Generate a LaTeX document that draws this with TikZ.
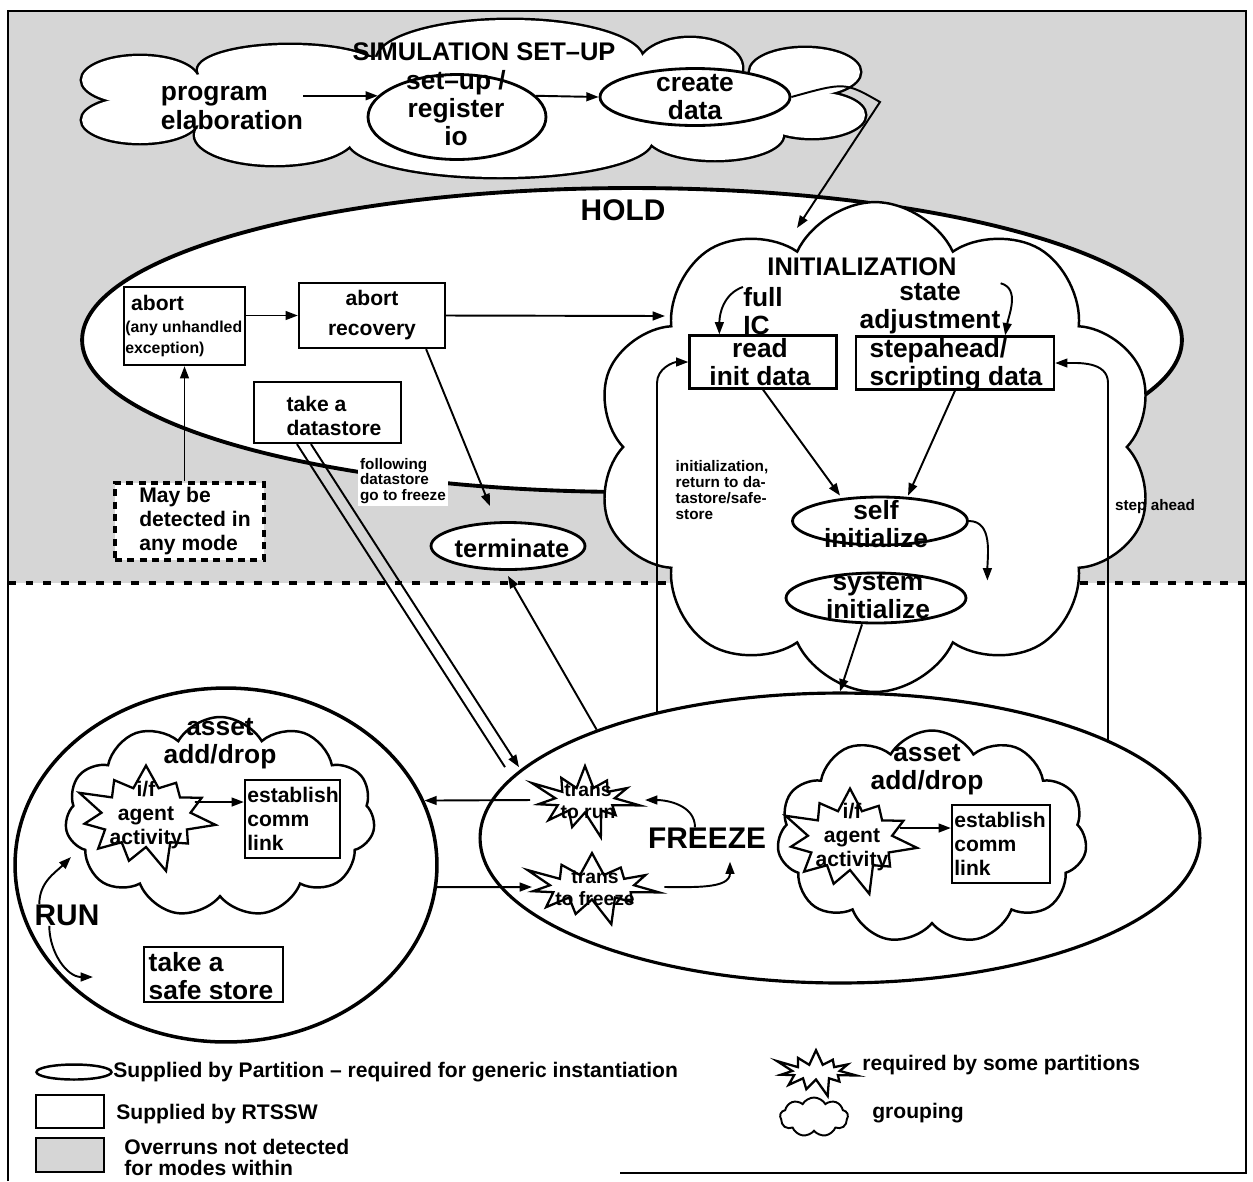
\documentclass[tikz,border=0pt]{standalone}
\usepackage{fontspec}
\setmainfont{Liberation Sans}
\usetikzlibrary{shapes.geometric,shapes.symbols,arrows.meta}
\newcommand\szhuge{\fontsize{17}{19}\selectfont}
\newcommand\sztitle{\fontsize{14.5}{16}\selectfont}
\newcommand\szbig{\fontsize{15}{16}\selectfont}
\newcommand\szmed{\fontsize{12}{13.5}\selectfont}
\newcommand\szsml{\fontsize{11}{12.5}\selectfont}
\newcommand\szleg{\fontsize{12}{12}\selectfont}
\newcommand\sztiny{\fontsize{8.7}{9}\selectfont}
\begin{document}
\begin{tikzpicture}[x=0.02cm,y=-0.02cm,
  lbl/.style={inner sep=0pt,align=center},
  fhuge/.style={font=\bfseries\szhuge},
  ftitle/.style={font=\bfseries\sztitle},
  fbig/.style={font=\bfseries\szbig},
  fmed/.style={font=\bfseries\szmed},
  fsml/.style={font=\bfseries\szsml},
  fleg/.style={font=\bfseries\szleg},
  ftiny/.style={font=\bfseries\sztiny},
  oval/.style={ellipse,draw,line width=1.6pt,fill=white,inner sep=0pt},
  rbox/.style={rectangle,draw,line width=1.3pt,fill=white,inner sep=0pt},
  puff/.style={cloud,draw,line width=1.4pt,fill=white,cloud puffs=11,cloud puff arc=120,inner sep=0pt},
  burst/.style={starburst,draw,line width=1.3pt,fill=white,starburst points=11,starburst point height=0.6cm,inner sep=0pt},
  arr/.style={-{Triangle[length=7pt,width=5pt]},line width=1.1pt},
]
\useasboundingbox (0,0) rectangle (1253,1181);
% shaded zone and frame
\fill[black!16] (8,11) rectangle (1246,583);
\draw[line width=2.2pt,dash pattern=on 4.5pt off 5.5pt] (8,583) -- (1246,583);
\draw[line width=1.3pt] (8,1181) -- (8,11) -- (1246,11) -- (1246,1173) -- (620,1173);

% simulation set-up cloud, drawn as a union of puffs
\foreach \cx/\cy/\rx/\ry in {140/80/58/24, 140/120/58/23, 290/70/92/25, 510/60/133/40,
    690/68/52/30, 805/72/55/24, 812/115/53/23, 715/135/68/25, 500/140/152/37, 275/135/80/30}
  \draw[line width=2.8pt] (\cx,\cy) ellipse [x radius=\rx, y radius=\ry];
\foreach \cx/\cy/\rx/\ry in {140/80/58/24, 140/120/58/23, 290/70/92/25, 510/60/133/40,
    690/68/52/30, 805/72/55/24, 812/115/53/23, 715/135/68/25, 500/140/152/37, 275/135/80/30, 470/100/330/45}
  \fill[white] (\cx,\cy) ellipse [x radius=\rx, y radius=\ry];
\node[oval,minimum width=3.56cm,minimum height=1.7cm] (setup) at (457,117) {};
\node[oval,minimum width=3.8cm,minimum height=1.14cm] (create) at (695,97) {};
\node[lbl,ftitle] (setuptitle) at (484,52) {SIMULATION SET–UP};
\node[lbl,fbig,align=left] (prog) at (232,108) {program\\elaboration};
\node[lbl,fbig] (setuptxt) at (456,108) {set–up /\\register\\io};
\node[lbl,fbig] (createtxt) at (695,97) {create\\data};

% hold
\node[oval,line width=2.2pt,minimum width=22cm,minimum height=6.08cm] (hold) at (632,340) {};
\node[lbl,fhuge] (holdtxt) at (623,210) {HOLD};

% initialization
\node[puff,cloud puffs=10,cloud puff arc=130,aspect=1.15,minimum width=11.2cm,minimum height=9.8cm] (initcloud) at (875,447) {};
\node[lbl,ftitle] (inittitle) at (862,267) {INITIALIZATION};
\node[lbl,fbig,align=left] (fullic) at (763,311) {full\\IC};
\node[lbl,fbig] (stateadj) at (930,309) {state\\adjustment};
\node[rbox,minimum width=2.94cm,minimum height=1.06cm] (readbox) at (763,362) {};
\node[lbl,fbig] (readtxt) at (760,362) {read\\init data};
\node[rbox,minimum width=3.96cm,minimum height=1.06cm] (stepbox) at (955,363) {};
\node[lbl,fbig,align=left] (steptxt) at (956,365) {stepahead/\\scripting data};
\node[oval,minimum width=3.5cm,minimum height=0.96cm] (selfinit) at (880,521) {};
\node[lbl,fbig] (selftxt) at (876,524) {self\\initialize};
\node[oval,minimum width=3.6cm,minimum height=1cm] (sysinit) at (876,598) {};
\node[lbl,fbig] (systxt) at (878,596) {system\\initialize};
\node[lbl,ftiny,align=left] (initnote) at (722,490) {initialization,\\return to da-\\tastore/safe-\\store};
\node[lbl,ftiny] (stepnote) at (1155,507) {step ahead};

% abort side
\node[rbox,minimum width=2.42cm,minimum height=1.56cm] (abortbox) at (184.5,326) {};
\node[lbl,align=left,anchor=west,font=\bfseries] (aborttxt) at (125,326) {\szmed\ abort\\[1pt]\fontsize{9}{12}\selectfont (any unhandled\\\fontsize{9}{12}\selectfont exception)};
\node[rbox,minimum width=2.92cm,minimum height=1.3cm] (recbox) at (372,315.5) {};
\node[lbl,fmed] (rectxt) at (372,315) {abort\\[4pt]recovery};
\node[rbox,minimum width=2.94cm,minimum height=1.22cm] (storebox) at (327.5,412.5) {};
\node[lbl,fmed,align=left] (storetxt) at (334,416) {take a\\datastore};
\node[rectangle,draw,line width=2pt,dash pattern=on 4pt off 3pt,fill=white,minimum width=2.98cm,minimum height=1.54cm] (maybox) at (189.5,521.5) {};
\node[lbl,fmed,align=left] (maytxt) at (195,521) {May be\\detected in\\any mode};
\node[lbl,ftiny,align=left,fill=white,inner sep=1pt] (follownote) at (403,481) {following\\datastore\\go to freeze};
\node[oval,minimum width=3.08cm,minimum height=0.94cm] (term) at (508,546) {};
\node[lbl,ftitle] (termtxt) at (512,548) {terminate};

% run
\node[oval,line width=2pt,minimum width=8.44cm,minimum height=7.08cm] (runell) at (226,865) {};
\node[puff,cloud puffs=11,aspect=1.55,minimum width=6.2cm,minimum height=4cm] (runcloud) at (220,817) {};
\node[burst,minimum width=3cm,minimum height=2.4cm] (runstar) at (146,817) {};
\node[rbox,minimum width=1.9cm,minimum height=1.56cm] (runlink) at (292.5,819) {};
\node[rbox,minimum width=2.78cm,minimum height=1.1cm] (safebox) at (213.5,974.5) {};
\node[lbl,fbig] (runasset) at (220,744) {asset\\add/drop};
\node[lbl,fmed] (runagent) at (146,815) {i/f\\agent\\activity};
\node[lbl,fmed,align=left] (runlinktxt) at (293,819) {establish\\comm\\link};
\node[lbl,fhuge] (runlbl) at (67,915) {RUN};
\node[lbl,fbig,align=left] (safetxt) at (211,976) {take a\\safe store};

% freeze
\node[oval,line width=1.8pt,minimum width=14.4cm,minimum height=5.8cm] (frzell) at (840,838) {};
\node[burst,minimum width=2.4cm,minimum height=1.7cm] (torun) at (585,800) {};
\node[burst,minimum width=2.9cm,minimum height=1.7cm] (tofrz) at (592,887) {};
\node[puff,cloud puffs=11,aspect=1.46,minimum width=6.2cm,minimum height=4.26cm] (frzcloud) at (932,837) {};
\node[burst,minimum width=2.9cm,minimum height=2.4cm] (frzstar) at (850,840) {};
\node[rbox,minimum width=1.96cm,minimum height=1.56cm] (frzlink) at (1001,844) {};
\node[lbl,fsml] (toruntxt) at (588,801) {trans\\to run};
\node[lbl,fsml] (tofrztxt) at (595,888) {trans\\to freeze};
\node[lbl,fhuge] (frzlbl) at (707,838) {FREEZE};
\node[lbl,fbig] (frzasset) at (927,770) {asset\\add/drop};
\node[lbl,fmed] (frzagent) at (852,837) {i/f\\agent\\activity};
\node[lbl,fmed,align=left] (frzlinktxt) at (1000,844) {establish\\comm\\link};

% connectors
\coordinate (setupexit) at (880,102);
\coordinate (initin) at (797,228);
\coordinate (recin) at (665,316);
\coordinate (frzL) at (657,713);
\coordinate (frzR) at (1108,741);
\coordinate (runup) at (71,857);
\coordinate (rundn) at (93,977);
\draw[arr] (prog.east |- setup.165) -- (setup.165);
\draw[arr] (setup.15) -- (create.west);
\draw[arr] (create.east) .. controls (845,82) .. (setupexit) -- (initin);
\draw[arr] (abortbox.east |- recbox.west) -- (recbox.west);
\draw[arr] (recbox.east) -- (recin);
\draw[arr] ([xshift=-0.4cm]recbox.south east) -- ([xshift=-0.36cm,yshift=0.3cm]term.north);
\draw[arr] (abortbox.south |- maybox.north) -- (abortbox.south);
\draw[line width=1.1pt] ([xshift=-0.61cm]storebox.south) -- ++(208,323);
\draw[arr] ([xshift=-0.33cm]storebox.south) -- ++(208,323);
\draw[arr] (frzell.156) -- ([yshift=-0.1cm]term.south);
\draw[arr] (frzL) -- ++(0,-330) to[out=90,in=180] (readbox.west);
\draw[arr] (frzR) -- ++(0,-358) to[out=90,in=0] (stepbox.east);
\draw[arr] (readbox.south) -- ([xshift=-0.8cm]selfinit.north);
\draw[arr] (stepbox.south) -- ([xshift=0.56cm]selfinit.north);
\draw[arr] (selfinit.east) to[out=0,in=90] ([xshift=0.4cm,yshift=0.35cm]sysinit.east);
\draw[arr] ([xshift=-0.28cm]sysinit.south) -- (frzell.north);
\draw[arr] (fullic.north west) to[out=200,in=90] ([xshift=0.62cm]readbox.north west);
\draw[arr] (stateadj.north east) to[out=-15,in=80] ([xshift=-1cm]stepbox.north east);
\draw[arr] ([xshift=0.98cm,yshift=0.3cm]runstar.center) -- ([yshift=0.34cm]runlink.west);
\draw[arr] ([xshift=0.1cm]runlbl.north west) to[out=90,in=225] (runup);
\draw[arr] ([xshift=0.3cm]runlbl.south west) to[out=-90,in=180] (rundn);
\draw[arr] ([xshift=-1.1cm]torun.center) -- (runell.18);
\draw[arr] (runell.-6) -- ([xshift=-1.2cm]tofrz.center);
\draw[arr] ([xshift=-0.24cm]frzlbl.north) to[out=90,in=0] ([xshift=1.2cm]torun.center);
\draw[arr] ([xshift=1.45cm]tofrz.center) to[out=0,in=-90] ([xshift=0.46cm,yshift=-0.26cm]frzlbl.south);
\draw[arr] ([xshift=1cm,yshift=0.24cm]frzstar.center) -- ([yshift=0.32cm]frzlink.west);

% legend
\node[oval,line width=1.4pt,minimum width=1.5cm,minimum height=0.3cm] (legoval) at (74,1072) {};
\node[lbl,fleg,anchor=west] (legovaltxt) at (113,1072) {Supplied by Partition – required for generic instantiation};
\node[rbox,minimum width=1.36cm,minimum height=0.66cm] (legbox) at (70,1111.5) {};
\node[lbl,fleg,anchor=west] (legboxtxt) at (116,1114) {Supplied by RTSSW};
\node[rbox,fill=black!16,minimum width=1.36cm,minimum height=0.68cm] (legshade) at (70,1155) {};
\node[lbl,fleg,align=left,anchor=west] (legshadetxt) at (124,1157) {Overruns not detected\\for modes within};
\node[burst,starburst point height=0.4cm,minimum width=1.76cm,minimum height=1.1cm] (legstar) at (816,1072) {};
\node[lbl,fleg,anchor=west] (legstartxt) at (862,1065) {required by some partitions};
\node[puff,cloud puffs=9,aspect=1.5,line width=1.1pt,minimum width=1.36cm,minimum height=0.78cm] (legcloud) at (814,1117) {};
\node[lbl,fleg,anchor=west] (legcloudtxt) at (872,1113) {grouping};
\end{tikzpicture}
\end{document}
